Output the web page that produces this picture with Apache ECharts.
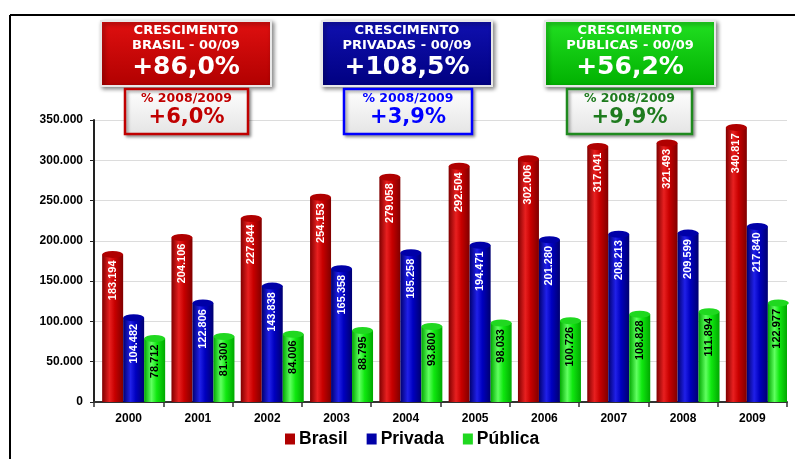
<!DOCTYPE html>
<html>
<head>
<meta charset="utf-8">
<script src="https://cdn.jsdelivr.net/npm/echarts@6/dist/echarts.min.js"></script>
<style>
  html, body { margin: 0; padding: 0; background: #fff; }
  #chart { width: 795px; height: 459px; }
</style>
</head>
<body>
<div id="chart"></div>
<script>
var years = ['2000', '2001', '2002', '2003', '2004', '2005', '2006', '2007', '2008', '2009'];
var brasil = [183194, 204106, 227844, 254153, 279058, 292504, 302006, 317041, 321493, 340817];
var privada = [104482, 122806, 143838, 165358, 185258, 194471, 201280, 208213, 209599, 217840];
var publica = [78712, 81300, 84006, 88795, 93800, 98033, 100726, 108828, 111894, 122977];
var seriesNames = ['Brasil', 'Privada', 'Pública'];

// caixas de crescimento
var growthTitles = [['CRESCIMENTO', 'BRASIL - 00/09'], ['CRESCIMENTO', 'PRIVADAS - 00/09'], ['CRESCIMENTO', 'PÚBLICAS - 00/09']];
var growthTotal = ['+86,0%', '+108,5%', '+56,2%'];
var growthYear = ['+6,0%', '+3,9%', '+9,9%'];
var growthYearLabel = '% 2008/2009';

function fmt(v) {
  return String(v).replace(/\B(?=(\d{3})+(?!\d))/g, '.');
}

function cyl(dark, mid, light) {
  return new echarts.graphic.LinearGradient(0, 0, 1, 0, [
    { offset: 0, color: dark },
    { offset: 0.35, color: light },
    { offset: 0.6, color: mid },
    { offset: 1, color: dark }
  ]);
}

var colors = [
  cyl('#800000', '#c80000', '#e82020'),
  cyl('#000070', '#0000c0', '#2020e8'),
  cyl('#00a800', '#10e810', '#60ff60')
];
var capColors = ['#b00000', '#0000a8', '#20d820'];
var labelColors = ['#fff', '#fff', '#000'];
var values = [brasil, privada, publica];

// espaçador invisivel para deslocar as barras (efeito 3D)
var series = [{
  name: 'sp', type: 'bar', data: years.map(function () { return null; }),
  barWidth: 10, barGap: '0%', silent: true
}];
values.forEach(function (d, i) {
  series.push({
    name: seriesNames[i],
    type: 'bar',
    data: d,
    barWidth: 21,
    barGap: '0%',
    itemStyle: { color: colors[i] },
    label: {
      show: true,
      position: 'insideTop',
      rotate: 90,
      align: 'right',
      verticalAlign: 'middle',
      distance: 6,
      color: labelColors[i],
      fontSize: 11,
      fontWeight: 'bold',
      fontFamily: 'Liberation Sans, Arial',
      formatter: function (p) { return fmt(p.value); }
    },
    z: 2
  });
});
series.push({
  name: 'sp2', type: 'pictorialBar', data: years.map(function () { return null; }),
  barWidth: 10, barGap: '0%', symbol: 'rect', silent: true
});
values.forEach(function (d, i) {
  series.push({
    name: 'cap' + i,
    type: 'pictorialBar',
    data: d,
    barWidth: 21,
    barGap: '0%',
    symbol: 'circle',
    symbolSize: [21, 7],
    symbolPosition: 'end',
    symbolOffset: [0, '-50%'],
    itemStyle: { color: capColors[i] },
    z: 3,
    silent: true
  });
});

var graphics = [
  { type: 'line', z: 20, shape: { x1: 10, y1: 15, x2: 795, y2: 15 }, style: { stroke: '#000', lineWidth: 2 } },
  { type: 'line', z: 20, shape: { x1: 10, y1: 15, x2: 10, y2: 459 }, style: { stroke: '#000', lineWidth: 2 } }
];

var boxX = [101, 322, 545];
var smallX = [125, 344, 567];
var smallW = [123, 128, 125];
var boxFill = [['#e01010', '#b00000'], ['#1010b0', '#000080'], ['#22e022', '#00b000']];
var smallStroke = ['#c00000', '#0000ff', '#1f8a1f'];
var smallText = ['#c00000', '#0000ff', '#1e7b1e'];

for (var i = 0; i < 3; i++) {
  var cx = boxX[i] + 85;
  var sx = smallX[i] + smallW[i] / 2;
  graphics.push({
    type: 'rect', z: 20,
    shape: { x: boxX[i], y: 21, width: 170, height: 65 },
    style: {
      fill: new echarts.graphic.LinearGradient(0, 0, 0, 1, [
        { offset: 0, color: boxFill[i][0] }, { offset: 1, color: boxFill[i][1] }
      ]),
      stroke: '#e8e8e8', lineWidth: 2,
      shadowBlur: 4, shadowColor: 'rgba(0,0,0,0.45)', shadowOffsetX: 2, shadowOffsetY: 2
    }
  });
  graphics.push({
    type: 'rect', z: 20,
    shape: { x: smallX[i], y: 89, width: smallW[i], height: 45 },
    style: {
      fill: new echarts.graphic.LinearGradient(0, 0, 0, 1, [
        { offset: 0, color: '#ffffff' }, { offset: 1, color: '#e4e4e4' }
      ]),
      stroke: smallStroke[i], lineWidth: 2.5,
      shadowBlur: 3, shadowColor: 'rgba(0,0,0,0.35)', shadowOffsetX: 2, shadowOffsetY: 2
    }
  });
  graphics.push({ type: 'text', z: 21, x: cx, y: 31, style: { text: growthTitles[i][0], align: 'center', verticalAlign: 'middle', fill: '#fff', font: 'bold 13px DejaVu Sans' } });
  graphics.push({ type: 'text', z: 21, x: cx, y: 46, style: { text: growthTitles[i][1], align: 'center', verticalAlign: 'middle', fill: '#fff', font: 'bold 13px DejaVu Sans' } });
  graphics.push({ type: 'text', z: 21, x: cx, y: 67, style: { text: growthTotal[i], align: 'center', verticalAlign: 'middle', fill: '#fff', font: 'bold 25px DejaVu Sans', shadowBlur: 2, shadowColor: 'rgba(0,0,0,0.5)', shadowOffsetX: 1, shadowOffsetY: 1 } });
  graphics.push({ type: 'text', z: 21, x: sx, y: 99, style: { text: growthYearLabel, align: 'center', verticalAlign: 'middle', fill: smallText[i], font: 'bold 12.5px DejaVu Sans' } });
  graphics.push({ type: 'text', z: 21, x: sx, y: 118, style: { text: growthYear[i], align: 'center', verticalAlign: 'middle', fill: smallText[i], font: 'bold 21px DejaVu Sans' } });
}

var chart = echarts.init(document.getElementById('chart'));
var option = {
  backgroundColor: '#fff',
  animation: false,
  grid: { left: 94, right: 8, top: 120, bottom: 57 },
  legend: {
    data: seriesNames.map(function (n, k) { return { name: n, itemStyle: { color: capColors[k] } }; }),
    bottom: 6,
    left: 280,
    icon: 'rect',
    itemWidth: 10,
    itemHeight: 11,
    itemGap: 19,
    textStyle: { fontSize: 17.5, fontWeight: 'bold', color: '#000', fontFamily: 'Liberation Sans, Arial', padding: [0, 0, 0, -1] }
  },
  xAxis: {
    type: 'category',
    data: years,
    axisLine: { lineStyle: { color: '#333', width: 2 } },
    axisTick: { show: true, length: 5, lineStyle: { color: '#333', width: 1.5 } },
    axisLabel: { color: '#000', fontSize: 12, fontWeight: 'bold', fontFamily: 'Liberation Sans, Arial', margin: 11 }
  },
  yAxis: {
    type: 'value',
    min: 0,
    max: 350000,
    interval: 50000,
    axisLine: { show: true, lineStyle: { color: '#222', width: 2 } },
    axisTick: { show: true, length: 4, lineStyle: { color: '#222' } },
    splitLine: { lineStyle: { color: '#dcdcdc' } },
    axisLabel: {
      color: '#000', fontSize: 12, fontWeight: 'bold', fontFamily: 'Liberation Sans, Arial', margin: 11,
      formatter: function (v) { return fmt(v); }
    }
  },
  series: series,
  graphic: graphics
};
chart.setOption(option);
</script>
</body>
</html>
